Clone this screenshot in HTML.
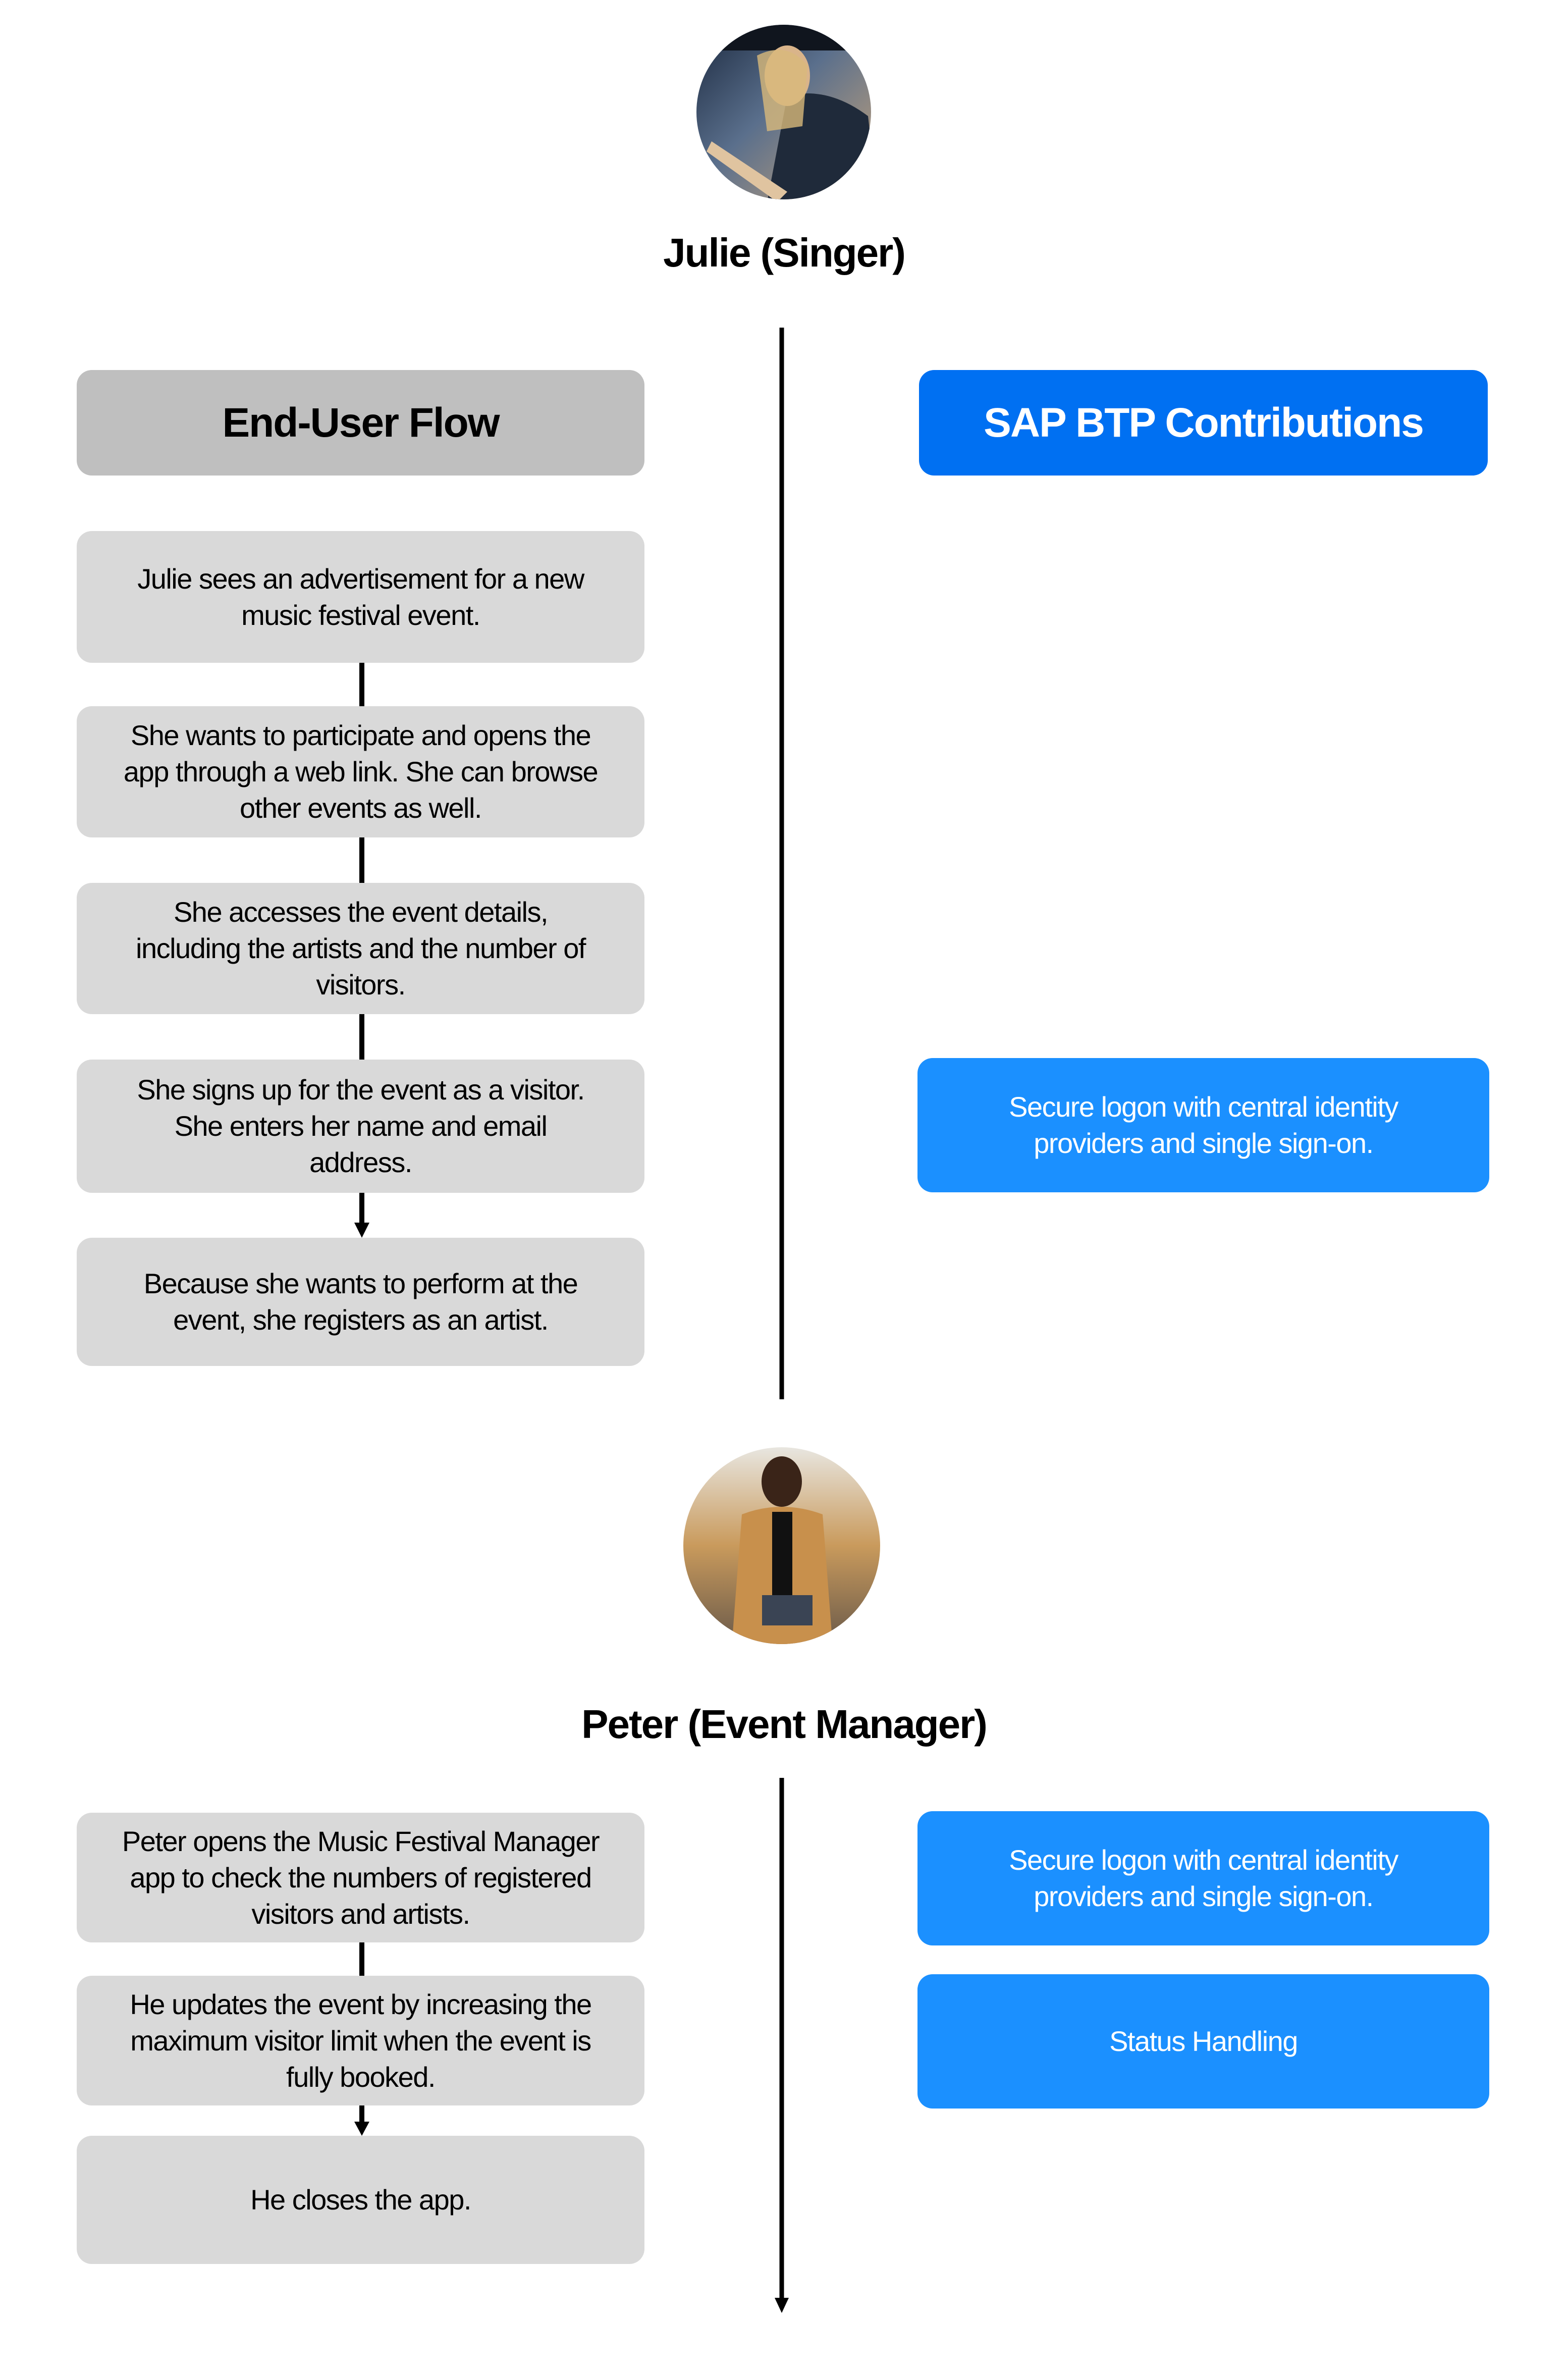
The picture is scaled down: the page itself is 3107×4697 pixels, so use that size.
<!DOCTYPE html>
<html><head><meta charset="utf-8"><style>
*{margin:0;padding:0;box-sizing:border-box}
body{width:3107px;height:4697px;background:#fff;position:relative;overflow:hidden;font-family:"Liberation Sans",sans-serif}
.b{position:absolute;display:flex;align-items:center;justify-content:center;text-align:center;border-radius:30px;white-space:nowrap}
.g{background:#d9d9d9;color:#000;font-size:56px;line-height:72px;left:152px;width:1125px;letter-spacing:-1.5px}
.bl{background:#1b90ff;color:#fff;font-size:56px;line-height:72px;left:1818px;width:1133px;letter-spacing:-1.5px}
.t{position:absolute;left:0;width:3107px;text-align:center;font-weight:bold;font-size:80px;letter-spacing:-2px}
</style></head><body>
<svg width="3107" height="4697" style="position:absolute;left:0;top:0">
<defs>
<linearGradient id="j" x1="0" y1="0" x2="1" y2="1"><stop offset="0" stop-color="#1c2a40"/><stop offset="0.45" stop-color="#5a6f8c"/><stop offset="1" stop-color="#c8a57a"/></linearGradient>
<linearGradient id="p" x1="0" y1="0" x2="0" y2="1"><stop offset="0" stop-color="#e8e6e0"/><stop offset="0.5" stop-color="#c99a5c"/><stop offset="1" stop-color="#6a5a4a"/></linearGradient>
<clipPath id="c1"><circle cx="1553" cy="222" r="173"/></clipPath>
<clipPath id="c2"><circle cx="1549" cy="3062" r="195"/></clipPath>
</defs>
<circle cx="1553" cy="222" r="173" fill="url(#j)"/>
<g clip-path="url(#c1)">
<rect x="1380" y="40" width="360" height="60" fill="#10151e"/>
<path d="M1560 190 Q1640 170 1720 230 L1740 400 L1520 400 Z" fill="#1f2a3a"/>
<ellipse cx="1560" cy="150" rx="45" ry="60" fill="#d9b48a"/>
<path d="M1500 110 Q1560 80 1600 130 L1590 250 L1520 260 Z" fill="#d8b97a" opacity="0.8"/>
<path d="M1410 280 L1560 380 L1540 400 L1400 300 Z" fill="#e0c4a0"/>
</g>
<circle cx="1549" cy="3062" r="195" fill="url(#p)"/>
<g clip-path="url(#c2)">
<ellipse cx="1549" cy="2935" rx="40" ry="50" fill="#3a2418"/>
<path d="M1470 3000 Q1549 2970 1630 3000 L1650 3260 L1450 3260 Z" fill="#c8904c"/>
<rect x="1530" y="2995" width="40" height="170" fill="#111"/>
<rect x="1510" y="3160" width="100" height="60" fill="#3a4454"/>
</g>
<line x1="717" y1="1313" x2="717" y2="1399" stroke="#000" stroke-width="10"/>
<line x1="717" y1="1659" x2="717" y2="1749" stroke="#000" stroke-width="10"/>
<line x1="717" y1="2009" x2="717" y2="2099" stroke="#000" stroke-width="10"/>
<line x1="717" y1="2363" x2="717" y2="2425" stroke="#000" stroke-width="10"/>
<polygon points="702,2422 732,2422 717,2452" fill="#000"/>
<line x1="717" y1="3848" x2="717" y2="3914" stroke="#000" stroke-width="10"/>
<line x1="717" y1="4171" x2="717" y2="4205" stroke="#000" stroke-width="10"/>
<polygon points="702,4203 732,4203 717,4231" fill="#000"/>
<line x1="1549" y1="649" x2="1549" y2="2772" stroke="#000" stroke-width="9"/>
<line x1="1549" y1="3522" x2="1549" y2="4555" stroke="#000" stroke-width="9"/>
<polygon points="1535,4552 1563,4552 1549,4582" fill="#000"/>
</svg>
<div class="t" style="top:455px">Julie (Singer)</div>
<div class="t" style="top:3370px">Peter (Event Manager)</div>
<div class="b" style="left:152px;width:1125px;top:733px;height:209px;background:#bfbfbf;font-weight:bold;font-size:82px;letter-spacing:-2px">End-User Flow</div>
<div class="b" style="left:1821px;width:1127px;top:733px;height:209px;background:#0070f2;color:#fff;font-weight:bold;font-size:82px;letter-spacing:-2px">SAP BTP Contributions</div>
<div class="b g" style="top:1052px;height:261px">Julie sees an advertisement for a new<br>music festival event.</div>
<div class="b g" style="top:1399px;height:260px">She wants to participate and opens the<br>app through a web link. She can browse<br>other events as well.</div>
<div class="b g" style="top:1749px;height:260px">She accesses the event details,<br>including the artists and the number of<br>visitors.</div>
<div class="b g" style="top:2099px;height:264px">She signs up for the event as a visitor.<br>She enters her name and email<br>address.</div>
<div class="b g" style="top:2452px;height:254px">Because she wants to perform at the<br>event, she registers as an artist.</div>
<div class="b bl" style="top:2096px;height:266px">Secure logon with central identity<br>providers and single sign-on.</div>
<div class="b g" style="top:3591px;height:257px">Peter opens the Music Festival Manager<br>app to check the numbers of registered<br>visitors and artists.</div>
<div class="b g" style="top:3914px;height:257px">He updates the event by increasing the<br>maximum visitor limit when the event is<br>fully booked.</div>
<div class="b g" style="top:4231px;height:254px">He closes the app.</div>
<div class="b bl" style="top:3588px;height:266px">Secure logon with central identity<br>providers and single sign-on.</div>
<div class="b bl" style="top:3911px;height:266px">Status Handling</div>
</body></html>
